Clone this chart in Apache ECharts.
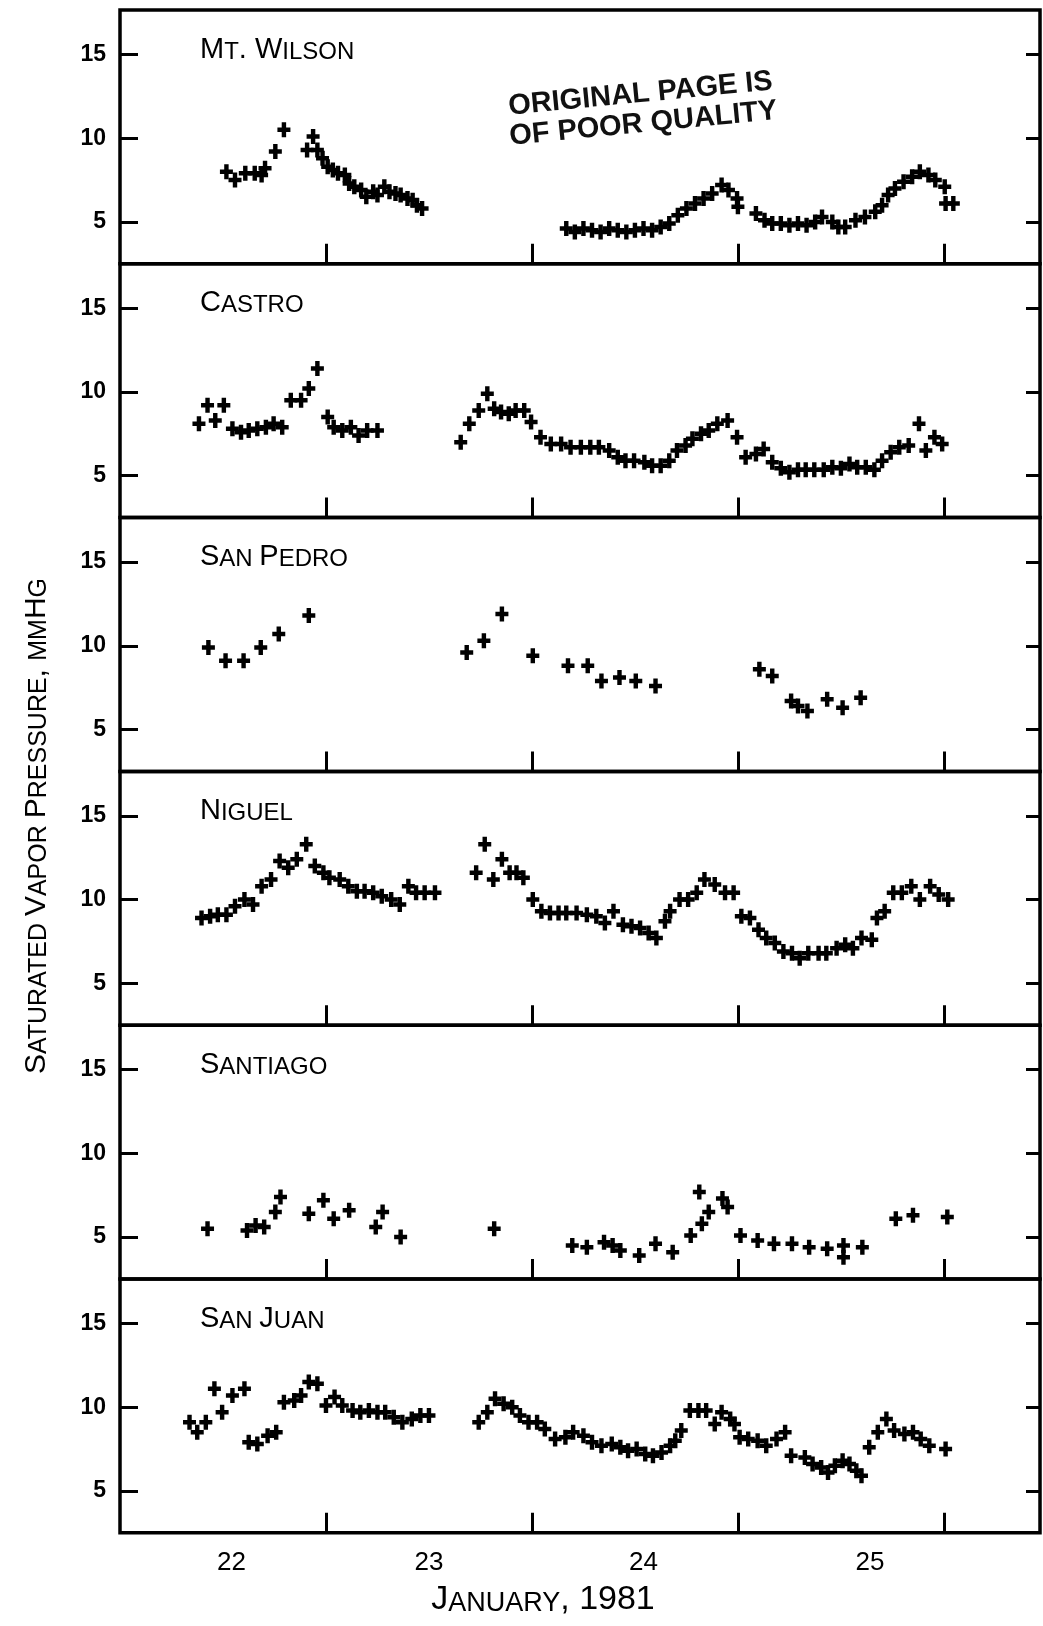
<!DOCTYPE html>
<html>
<head>
<meta charset="utf-8">
<title>Saturated vapor pressure, January 1981</title>
<script src="https://cdn.jsdelivr.net/npm/echarts@6.0.0/dist/echarts.min.js"></script>
<style>
	html, body { margin: 0; padding: 0; background: #fff; }
	#container { width: 1043px; height: 1626px; }
</style>
</head>
<body>
<div id="container"></div>
<script>
// time = hours counted from Jan 22 00:00, values = saturated vapor pressure (mmHg)
var wilsonHours = [12.4, 13.4, 14.6, 15.7, 16.5, 16.9, 18.1, 19.1,
	21.8, 22.5, 23.0, 23.6, 24.2, 24.8, 25.4, 26.2, 26.7, 27.3, 28.1, 28.7, 29.5, 30.0, 30.8, 31.4, 32.1, 32.7, 33.5, 34.1, 34.6, 35.2,
	52, 53, 54, 55, 56, 57, 58, 59, 60, 61, 62, 63, 64, 65, 66, 67, 68, 69, 70.1, 70.9, 71.9, 72.0, 74.1, 75.1,
	76, 77, 78, 79, 80, 81, 81.8, 83, 83.7, 84.5, 85.7, 86.8, 88, 88.8, 89.5, 90.3, 91.3, 92.3, 93.2, 94.2, 95, 96.1, 96.2, 97.1]
var wilsonVp = [8.0, 7.5, 7.9, 7.9, 7.8, 8.2, 9.2, 10.5,
	9.3, 10.1, 9.3, 8.8, 8.3, 8.1, 7.9, 7.8, 7.3, 7.1, 6.9, 6.5, 6.8, 6.6, 7.1, 6.8, 6.7, 6.6, 6.4, 6.3, 6.0, 5.8,
	4.6, 4.4, 4.6, 4.5, 4.4, 4.6, 4.5, 4.4, 4.5, 4.6, 4.5, 4.7, 4.9, 5.4, 5.8, 6.1, 6.4, 6.7, 7.2, 6.9, 6.4, 5.9, 5.5, 5.1,
	4.9, 4.9, 4.8, 4.9, 4.8, 5.0, 5.3, 5.0, 4.7, 4.7, 5.1, 5.3, 5.6, 6.0, 6.6, 7.0, 7.4, 7.7, 8.0, 7.8, 7.5, 7.1, 6.1, 6.1]

var castroHours = [9.2, 10.2, 11.1, 12.1, 13.1, 14.1, 15.0, 16.0, 17.0, 17.9, 18.9, 19.9, 21.1, 22.0, 23.0, 24.2, 24.9, 25.9, 26.9, 27.8, 28.8, 30.0,
	39.7, 40.7, 41.8, 42.8, 43.6, 44.4, 45.3, 46.1, 47.1, 47.9, 49.0, 50.2, 51.4, 52.5, 53.7, 54.8, 55.8, 57.0, 58.0, 58.9,
	59.9, 61.1, 62.0, 63.0, 64.0, 64.9, 65.9, 66.7, 67.7, 68.6, 69.6, 70.8, 71.9, 72.9, 74.1, 75.0, 76.0, 77.0, 78.0, 79.0,
	79.9, 80.9, 82.0, 83.0, 84.0, 85.0, 85.9, 86.9, 87.9, 88.8, 89.8, 90.8, 91.9, 93.1, 93.9, 94.9, 95.8]
var castroVp = [8.1, 9.2, 8.3, 9.2, 7.8, 7.6, 7.7, 7.8, 7.9, 8.1, 7.9, 9.5, 9.5, 10.2, 11.4, 8.5, 7.9, 7.7, 7.9, 7.4, 7.7, 7.7,
	7.0, 8.1, 8.9, 9.9, 9.0, 8.8, 8.7, 8.9, 8.9, 8.2, 7.3, 6.9, 6.9, 6.7, 6.7, 6.7, 6.7, 6.5, 6.1, 5.9,
	5.9, 5.8, 5.6, 5.6, 5.9, 6.5, 6.8, 7.2, 7.5, 7.7, 8.1, 8.3, 7.3, 6.1, 6.3, 6.6, 5.8, 5.45, 5.2, 5.35,
	5.35, 5.35, 5.35, 5.5, 5.45, 5.7, 5.5, 5.5, 5.35, 5.9, 6.4, 6.7, 6.8, 8.1, 6.5, 7.3, 6.9]

var pedroHours = [10.3, 12.3, 14.4, 16.4, 18.5, 22.0, 40.4, 42.4, 44.5, 48.1, 52.2, 54.5, 56.1, 58.2, 60.1, 62.4,
	74.5, 76.0, 78.2, 79.0, 80.1, 82.4, 84.2, 86.3]
var pedroVp = [9.9, 9.1, 9.1, 9.9, 10.7, 11.8, 9.6, 10.3, 11.9, 9.4, 8.8, 8.8, 7.9, 8.1, 7.9, 7.6,
	8.6, 8.2, 6.7, 6.4, 6.1, 6.8, 6.3, 6.9]

var niguelHours = [9.5, 10.5, 11.4, 12.4, 13.4, 14.5, 15.5, 16.5, 17.6, 18.6, 19.6, 20.6, 21.7, 22.7, 23.7, 24.4, 25.6, 26.6, 27.6, 28.5,
	29.5, 30.5, 31.6, 32.6, 33.6, 34.5, 35.5, 36.7,
	41.5, 42.5, 43.5, 44.5, 45.4, 46.2, 47.0, 48.1, 49.1, 50.1, 51.1, 52.0, 53.2, 54.4, 55.5, 56.5, 57.5, 58.6, 59.6, 60.6,
	61.6, 62.5, 63.5, 64.1, 65.2, 66.2, 67.2, 68.1, 69.3, 70.5, 71.5, 72.4, 73.4, 74.4, 75.3, 76.3, 77.3, 78.3, 79.2, 80.2,
	81.4, 82.3, 83.5, 84.5, 85.4, 86.4, 87.6, 88.2, 89.1, 90.1, 91.1, 92.2, 93.2, 94.4, 95.4, 96.5]
var niguelVp = [8.9, 9.0, 9.1, 9.1, 9.6, 10.0, 9.7, 10.8, 11.2, 12.3, 11.9, 12.4, 13.3, 12.0, 11.6, 11.3, 11.2, 10.8, 10.5, 10.5,
	10.4, 10.2, 10.0, 9.7, 10.8, 10.4, 10.4, 10.4,
	11.6, 13.3, 11.2, 12.4, 11.6, 11.6, 11.3, 10.0, 9.3, 9.2, 9.2, 9.2, 9.2, 9.1, 9.0, 8.6, 9.3, 8.5, 8.4, 8.3,
	8.0, 7.7, 8.7, 9.3, 10.0, 10.0, 10.4, 11.2, 10.9, 10.4, 10.4, 9.0, 8.9, 8.2, 7.7, 7.4, 6.9, 6.8, 6.5, 6.8,
	6.8, 6.8, 7.1, 7.3, 7.1, 7.7, 7.6, 8.9, 9.3, 10.4, 10.4, 10.8, 10.0, 10.8, 10.3, 10.0]

var santiagoHours = [10.2, 14.8, 15.8, 16.8, 18.1, 18.7, 22.0, 23.7, 24.9, 26.7, 29.8, 30.6, 32.7, 43.6,
	52.7, 54.4, 56.4, 57.4, 58.3, 60.5, 62.4, 64.4, 66.5, 67.5, 67.8, 68.6, 70.2, 70.8, 72.3, 74.3,
	76.2, 78.3, 80.3, 82.4, 84.3, 84.3, 86.5, 90.4, 92.4, 96.4]
var santiagoVp = [5.5, 5.4, 5.7, 5.6, 6.5, 7.4, 6.4, 7.2, 6.1, 6.6, 5.6, 6.5, 5.0, 5.5,
	4.5, 4.4, 4.7, 4.5, 4.2, 3.9, 4.6, 4.1, 5.1, 7.7, 5.8, 6.5, 7.3, 6.8, 5.1, 4.8,
	4.6, 4.6, 4.4, 4.3, 4.5, 3.8, 4.4, 6.1, 6.3, 6.2]

var juanHours = [8.1, 9.0, 10.0, 11.0, 11.9, 13.1, 14.5, 15.0, 16.0, 17.2, 18.2, 19.1, 20.3, 21.1, 22.0, 23.0, 24.0, 25.0, 25.9, 27.1,
	28.0, 29.0, 30.0, 30.9, 31.9, 32.9, 34.0, 35.0, 36.0,
	41.8, 42.8, 43.7, 44.7, 45.7, 46.6, 47.6, 48.6, 49.5, 50.7, 51.9, 52.8, 54.0, 55.0, 56.1, 57.3, 58.3, 59.2, 60.2, 61.2,
	62.1, 63.1, 64.1, 64.7, 65.4, 66.4, 67.4, 68.3, 69.3, 70.1, 71.1, 71.6, 72.2, 73.2, 74.3, 75.3, 76.5, 77.5, 78.2, 79.8,
	80.7, 81.7, 82.5, 83.3, 84.2, 85.0, 85.8, 86.4, 87.3, 88.3, 89.3, 90.2, 91.4, 92.4, 93.3, 94.3, 96.2]
var juanVp = [9.1, 8.5, 9.1, 11.1, 9.7, 10.7, 11.1, 7.9, 7.8, 8.3, 8.5, 10.3, 10.4, 10.7, 11.5, 11.4, 10.1, 10.6, 10.1, 9.8,
	9.7, 9.8, 9.7, 9.7, 9.4, 9.1, 9.3, 9.5, 9.5,
	9.1, 9.7, 10.5, 10.2, 10.0, 9.5, 9.1, 9.1, 8.7, 8.1, 8.2, 8.5, 8.3, 7.9, 7.7, 7.8, 7.6, 7.4, 7.5, 7.2,
	7.1, 7.3, 7.7, 8.0, 8.6, 9.8, 9.8, 9.8, 9.0, 9.7, 9.3, 9.0, 8.2, 8.1, 8.0, 7.7, 8.1, 8.5, 7.1, 7.0,
	6.6, 6.4, 6.1, 6.5, 6.8, 6.6, 6.2, 5.9, 7.6, 8.5, 9.3, 8.6, 8.4, 8.5, 8.1, 7.7, 7.5]

var stationNames = ['Mt. Wilson', 'Castro', 'San Pedro', 'Niguel', 'Santiago', 'San Juan']
var dayTicks = [24, 48, 72, 96]
var dayLabels = ['22', '23', '24', '25']
var dayLabelHours = [13, 36, 61, 87.4]
var vpTicks = [5, 10, 15]

var FONT = '"Liberation Sans", Arial, sans-serif'
var panelTop = 10
var panelH = 253.8
// plus sign marker, a bit taller than wide
var crossPath = 'path://M3.3,0H6.7V3.5H10V6.5H6.7V10H3.3V6.5H0V3.5H3.3Z'

// "Mt. Wilson" -> {b|M}{s|T}{b|. W}{s|ILSON}  (small caps lettering)
function smallCaps(txt){
	let out = '', run = '', cur = null
	for (const ch of txt) {
		let kind = (ch !== ch.toUpperCase()) ? 's' : 'b'
		if (ch === ' ' && cur) kind = cur
		if (kind !== cur && run) {
			out += '{' + cur + '|' + run + '}'
			run = ''
		}
		cur = kind
		run += ch.toUpperCase()
	}
	if (run) out += '{' + cur + '|' + run + '}'
	return out
}
function capsRich(big, small){
	return {
		b: { fontSize: big, fontFamily: FONT, fontWeight: 'normal', color: '#000', verticalAlign: 'bottom' },
		s: { fontSize: small, fontFamily: FONT, fontWeight: 'normal', color: '#000', verticalAlign: 'bottom' }
	}
}

function drawChart(){
	var dom = document.getElementById('container')
	var myChart = echarts.init(dom, null, { renderer: 'canvas' })
	var series = [
		[wilsonHours, wilsonVp], [castroHours, castroVp], [pedroHours, pedroVp],
		[niguelHours, niguelVp], [santiagoHours, santiagoVp], [juanHours, juanVp]
	]
	var grids = [], xAxes = [], yAxes = [], titles = [], scatters = []

	series.forEach(function(s, i){
		var last = i === series.length - 1
		grids.push({
			left: 120, width: 920,
			top: panelTop + i * panelH, height: panelH,
			show: true, borderColor: '#000', borderWidth: 3.5
		})
		xAxes.push({
			type: 'value', gridIndex: i, min: 0, max: 107.2,
			axisLine: { show: false },
			splitLine: { show: false },
			axisTick: { inside: true, length: 20, customValues: dayTicks, lineStyle: { color: '#000', width: 3 } },
			axisLabel: last ? {
				customValues: dayLabelHours,
				formatter: function(v){ return dayLabels[dayLabelHours.indexOf(v)] },
				fontSize: 26, fontFamily: FONT, color: '#000', margin: 17
			} : { show: false },
			name: last ? smallCaps('January, 1981') : '',
			nameLocation: 'middle',
			nameGap: 50,
			nameTextStyle: { rich: capsRich(34, 27), padding: [0, 74, 0, 0] }
		})
		// left axis with labels
		yAxes.push({
			type: 'value', gridIndex: i, position: 'left', min: 2.5, max: 17.65,
			axisLine: { show: false },
			splitLine: { show: false },
			axisTick: { inside: true, length: 18, customValues: vpTicks, lineStyle: { color: '#000', width: 3 } },
			axisLabel: { customValues: vpTicks, fontSize: 23, fontWeight: 'bold', fontFamily: FONT, color: '#000', margin: 14 }
		})
		titles.push({
			text: smallCaps(stationNames[i]),
			left: 200, top: panelTop + i * panelH + 25, padding: 0,
			textStyle: { fontWeight: 'normal', rich: capsRich(29, 24) }
		})
		scatters.push({
			type: 'scatter', xAxisIndex: i, yAxisIndex: i,
			data: s[0].map(function(h, k){ return [h, s[1][k]] }),
			symbol: crossPath, symbolSize: [13, 15],
			itemStyle: { color: '#000', opacity: 1 },
			silent: true
		})
	})
	// right hand ticks, no labels
	series.forEach(function(s, i){
		yAxes.push({
			type: 'value', gridIndex: i, position: 'right', min: 2.5, max: 17.65,
			axisLine: { show: false },
			splitLine: { show: false },
			axisTick: { inside: true, length: 14, customValues: vpTicks, lineStyle: { color: '#000', width: 3 } },
			axisLabel: { show: false }
		})
	})

	var option = {
		backgroundColor: '#fff',
		animation: false,
		title: titles,
		grid: grids,
		xAxis: xAxes,
		yAxis: yAxes,
		series: scatters,
		graphic: [
			{
				type: 'text', x: 37, y: 826, rotation: Math.PI / 2,
				style: {
					text: smallCaps('Saturated Vapor Pressure, mmHg'),
					align: 'center', verticalAlign: 'middle',
					rich: capsRich(30, 25)
				}
			},
			// the scanner stamp
			{
				type: 'group', x: 642, y: 109, rotation: 0.096,
				children: [
					{ type: 'text', x: 0, y: -15, style: { text: 'ORIGINAL PAGE IS', align: 'center', verticalAlign: 'middle',
						fontSize: 29, fontWeight: 'bold', fontFamily: FONT, fill: '#111' } },
					{ type: 'text', x: 0, y: 15, style: { text: 'OF POOR QUALITY', align: 'center', verticalAlign: 'middle',
						fontSize: 29, fontWeight: 'bold', fontFamily: FONT, fill: '#111' } }
				]
			}
		]
	}
	myChart.setOption(option)
}
drawChart()
</script>
</body>
</html>
